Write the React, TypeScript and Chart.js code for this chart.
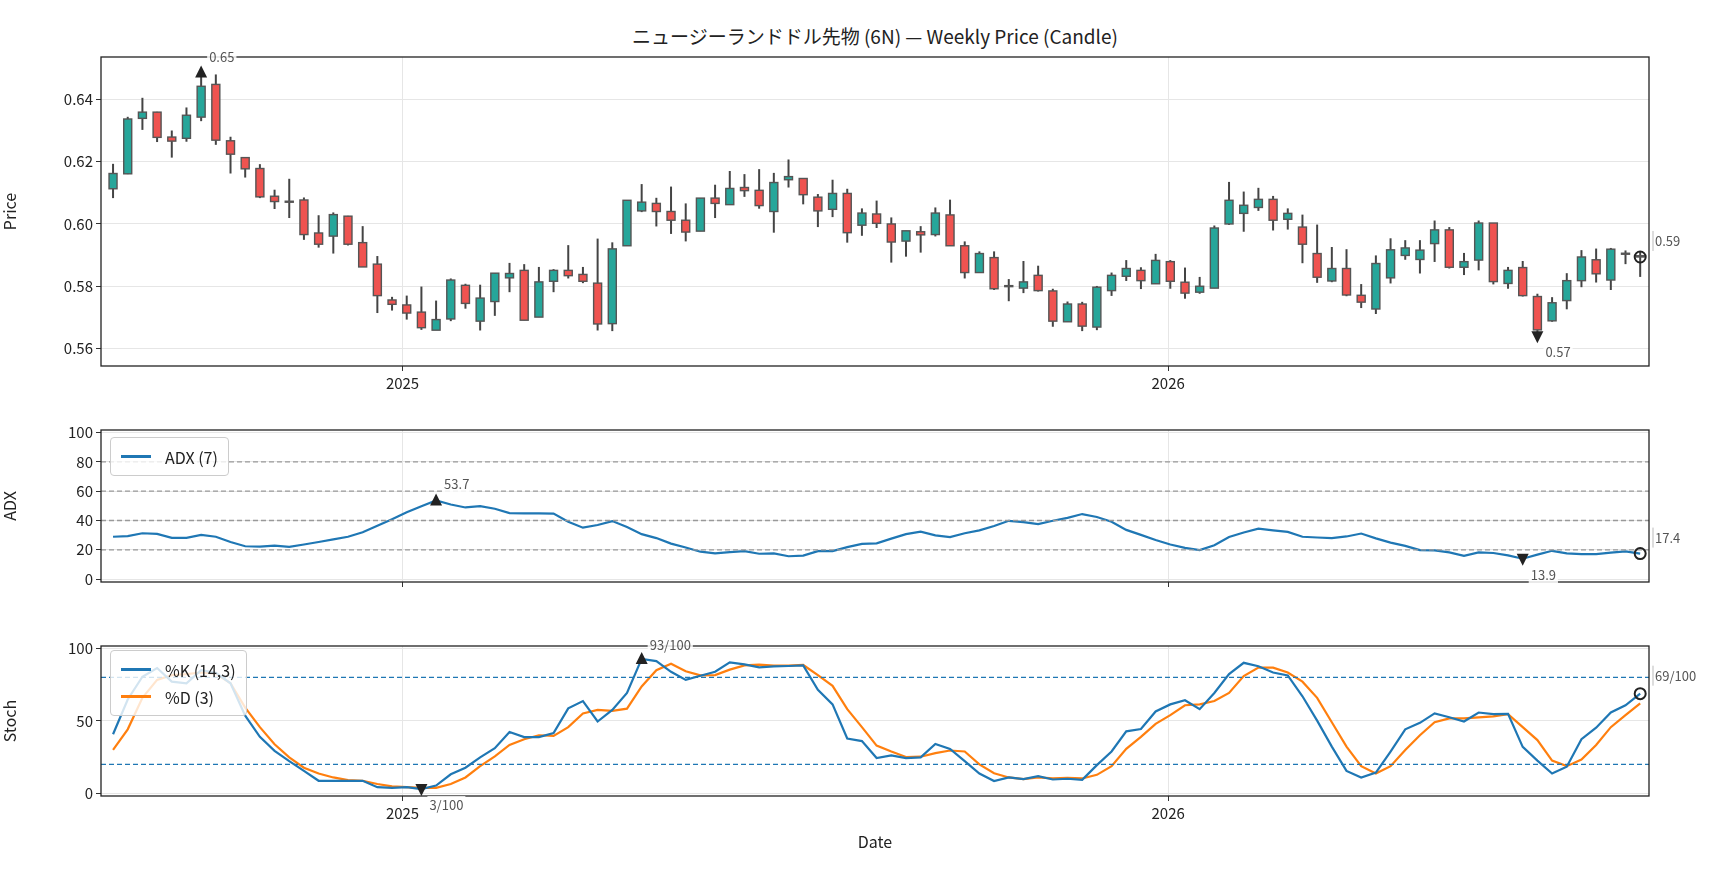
import React, { useEffect, useRef } from "react";
import { Chart, registerables } from "chart.js";
Chart.register(...registerables);

const START = "2024-08-16";
const YEAR_TICKS = ["2025-01-01", "2026-01-01"];
const YEAR_LABELS = ["2025", "2026"];

const OPEN = [.6113,.6161,.6339,.6359,.6279,.6275,.6343,.6448,.6267,.6213,.6178,.6089,.6073,.6077,.5971,.5961,.6025,.5940,.5871,.5756,.5740,.5717,.5659,.5695,.5803,.5688,.5751,.5827,.5851,.5701,.5816,.5851,.5838,.5810,.5680,.5930,.6042,.6066,.6040,.6012,.5977,.6083,.6062,.6117,.6108,.6040,.6142,.6146,.6086,.6047,.6098,.5996,.6032,.6000,.5945,.5975,.5966,.6029,.5930,.5844,.5892,.5802,.5794,.5835,.5785,.5686,.5743,.5669,.5786,.5832,.5851,.5808,.5879,.5813,.5781,.5794,.6000,.6034,.6053,.6079,.6015,.5990,.5905,.5817,.5857,.5771,.5727,.5827,.5899,.5886,.5937,.5981,.5861,.5884,.6003,.5809,.5860,.5767,.5689,.5754,.5818,.5885,.5820,.5906,.5898];
const HIGH = [.6193,.6344,.6405,.6360,.6300,.6374,.6486,.6480,.6280,.6213,.6192,.6110,.6145,.6085,.6028,.6037,.6026,.5993,.5897,.5766,.5770,.5799,.5754,.5825,.5808,.5805,.5842,.5875,.5871,.5862,.5855,.5932,.5862,.5953,.5941,.6076,.6128,.6084,.6120,.6066,.6083,.6126,.6170,.6160,.6176,.6164,.6207,.6146,.6096,.6142,.6113,.6050,.6075,.6021,.5978,.5993,.6053,.6078,.5944,.5912,.5912,.5823,.5881,.5866,.5792,.5751,.5750,.5801,.5844,.5884,.5861,.5904,.5884,.5860,.5830,.5995,.6135,.6104,.6116,.6090,.6050,.6030,.5998,.5926,.5919,.5807,.5899,.5954,.5948,.5948,.6011,.5990,.5907,.6011,.6003,.5862,.5881,.5776,.5765,.5842,.5916,.5921,.5923,.5915,.5910];
const LOW = [.6083,.6160,.6302,.6263,.6213,.6264,.6330,.6254,.6162,.6149,.6083,.6048,.6019,.5949,.5924,.5905,.5931,.5862,.5714,.5722,.5693,.5660,.5660,.5688,.5728,.5658,.5705,.5781,.5691,.5701,.5781,.5825,.5810,.5658,.5656,.5930,.6038,.5992,.5968,.5944,.5977,.6019,.6062,.6087,.6049,.5972,.6117,.6063,.5990,.6022,.5940,.5962,.5987,.5876,.5895,.5908,.5960,.5930,.5825,.5844,.5788,.5752,.5778,.5783,.5670,.5686,.5656,.5659,.5769,.5817,.5791,.5808,.5792,.5760,.5776,.5794,.5997,.5975,.6042,.5979,.5982,.5874,.5811,.5813,.5768,.5730,.5711,.5809,.5885,.5841,.5878,.5857,.5836,.5851,.5806,.5792,.5767,.5652,.5686,.5726,.5797,.5812,.5788,.5871,.5830];
const CLOSE = [.6162,.6337,.6359,.6278,.6266,.6349,.6442,.6269,.6224,.6177,.6087,.6072,.6071,.5966,.5935,.6030,.5935,.5862,.5770,.5742,.5714,.5667,.5693,.5820,.5745,.5762,.5842,.5841,.5691,.5814,.5851,.5834,.5816,.5679,.5920,.6076,.6070,.6040,.6012,.5974,.6083,.6066,.6114,.6107,.6059,.6133,.6152,.6094,.6042,.6098,.5972,.6035,.6002,.5942,.5978,.5965,.6035,.5930,.5844,.5905,.5792,.5800,.5814,.5786,.5688,.5743,.5672,.5797,.5835,.5857,.5818,.5883,.5816,.5778,.5800,.5987,.6076,.6060,.6079,.6012,.6034,.5935,.5829,.5857,.5772,.5749,.5873,.5917,.5923,.5916,.5981,.5861,.5879,.6003,.5815,.5851,.5770,.5660,.5747,.5818,.5894,.5840,.5919,.5904,.5894];
const ADX = [28.9,29.3,31.3,30.9,28.2,28.2,30.2,28.9,25.3,22.4,22.2,22.9,22.0,23.6,25.3,27.1,28.9,32.0,36.4,40.9,45.6,49.8,53.7,50.9,48.9,49.8,48.0,45.1,44.9,44.9,44.7,39.1,35.1,36.9,39.6,35.6,30.7,28.0,24.2,21.6,18.7,17.6,18.4,19.1,17.3,17.6,15.6,16.0,19.1,19.1,21.8,24.0,24.4,27.6,30.7,32.4,29.8,28.7,31.3,33.3,36.2,39.8,38.9,37.6,39.8,41.8,44.4,42.4,39.1,33.6,30.2,26.7,23.6,21.3,19.8,23.1,28.7,31.8,34.4,33.3,32.2,28.9,28.4,28.0,29.1,31.1,27.8,24.9,22.7,19.8,19.6,18.2,15.8,18.2,17.8,16.2,13.9,16.7,19.3,17.6,17.1,17.1,18.0,18.9,17.4];
const STOCH_K = [40.8,64.8,80.5,86.5,77.1,76.0,85.0,83.2,76.0,53.6,39.0,29.4,22.2,15.5,8.7,8.7,8.7,8.7,4.3,3.8,4.3,3.0,5.4,13.2,17.7,24.9,31.2,42.4,38.8,38.8,41.7,58.7,63.7,49.6,57.6,69.3,92.8,91.3,83.9,78.3,81.2,83.9,90.4,89.0,87.0,87.7,87.9,88.3,71.5,61.4,37.9,36.1,24.4,26.2,24.4,24.9,34.1,30.7,22.2,13.7,8.5,11.0,9.9,11.9,9.6,10.1,9.4,19.5,28.9,42.8,44.4,56.5,61.4,64.3,58.1,69.3,82.3,90.1,87.7,83.4,81.4,67.0,50.2,32.3,15.5,11.0,14.3,28.9,44.2,48.7,55.2,52.5,49.6,55.8,54.7,54.9,32.1,22.6,13.7,18.4,37.4,45.3,55.8,60.8,68.8];
const STOCH_D = [30.0,44.2,65.9,78.3,81.6,82.3,83.4,82.7,76.0,59.2,45.7,33.9,24.9,17.7,13.7,11.0,9.2,8.7,6.5,4.9,4.3,3.8,3.8,6.5,11.0,18.8,25.6,33.4,37.4,40.1,39.7,45.7,55.2,57.6,57.0,58.5,73.8,85.0,89.5,84.3,81.4,81.6,85.4,88.3,88.8,88.1,88.1,88.6,81.6,74.2,58.1,45.7,33.0,28.9,25.1,25.3,27.8,29.6,28.9,20.0,13.9,11.0,9.9,11.0,10.3,10.8,10.3,12.8,18.8,30.7,39.0,48.0,54.0,60.8,61.4,63.7,69.3,80.9,86.8,86.8,83.4,77.1,65.9,49.1,32.3,18.8,13.7,18.8,30.0,40.1,49.1,51.8,51.8,52.5,53.1,54.7,45.7,36.8,22.6,18.8,23.3,33.4,45.7,54.0,62.1];

const WEEK = 7 * 864e5;
const TICK_POS = YEAR_TICKS.map((d) => (Date.parse(d) - Date.parse(START)) / WEEK);
const X_MIN = -0.82, X_MAX = 104.6;
const FONT = "'Noto Sans CJK JP', 'Noto Sans', sans-serif";
const BLUE = "#1f77b4", ORANGE = "#ff7f0e";
const idx = OPEN.map((_, i) => i);

const argMax = (a: number[]) => a.reduce((b, v, i) => (v > a[b] ? i : b), 0);
const argMin = (a: number[]) => a.reduce((b, v, i) => (v < a[b] ? i : b), 0);

const candles = {
  id: "candles",
  beforeDatasetsDraw(chart: any, _a: any, opts: any) {
    if (!opts || !opts.on) return;
    const { ctx, scales } = chart;
    const xs = scales.x, ys = scales.y;
    ctx.save();
    idx.forEach((i) => {
      const x = xs.getPixelForValue(i);
      ctx.strokeStyle = "#444"; ctx.lineWidth = 2;
      ctx.beginPath(); ctx.moveTo(x, ys.getPixelForValue(HIGH[i])); ctx.lineTo(x, ys.getPixelForValue(LOW[i])); ctx.stroke();
      const yo = ys.getPixelForValue(OPEN[i]), yc = ys.getPixelForValue(CLOSE[i]);
      const top = Math.min(yo, yc), h = Math.max(Math.abs(yo - yc), 1);
      ctx.fillStyle = CLOSE[i] >= OPEN[i] ? "#26a69a" : "#ef5350";
      ctx.fillRect(x - 4, top, 8, h);
      ctx.strokeStyle = "#555"; ctx.lineWidth = 1.4;
      ctx.strokeRect(x - 4, top, 8, h);
    });
    ctx.restore();
  },
};

const deco = {
  id: "deco",
  afterDatasetsDraw(chart: any, _a: any, opts: any) {
    const { ctx, chartArea: ca, scales } = chart;
    const xs = scales.x, ys = scales.y;
    ctx.save();
    (opts.lines || []).forEach((l: any) => {
      const y = ys.getPixelForValue(l.y);
      ctx.beginPath(); ctx.setLineDash([5, 3]); ctx.strokeStyle = l.color; ctx.lineWidth = 1.3;
      ctx.moveTo(ca.left, y); ctx.lineTo(ca.right, y); ctx.stroke();
    });
    ctx.setLineDash([]);
    ctx.strokeStyle = "#222"; ctx.lineWidth = 1.3;
    ctx.strokeRect(ca.left, ca.top, ca.right - ca.left, ca.bottom - ca.top);
    (opts.markers || []).forEach((m: any) => {
      const x = xs.getPixelForValue(m.x), y = ys.getPixelForValue(m.y) + (m.off || 0);
      ctx.fillStyle = "#222"; ctx.strokeStyle = "#222";
      if (m.kind === "up") {
        ctx.beginPath(); ctx.moveTo(x, y - 7); ctx.lineTo(x - 6, y + 5); ctx.lineTo(x + 6, y + 5); ctx.closePath(); ctx.fill();
      } else if (m.kind === "down") {
        ctx.beginPath(); ctx.moveTo(x, y + 7); ctx.lineTo(x - 6, y - 5); ctx.lineTo(x + 6, y - 5); ctx.closePath(); ctx.fill();
      } else {
        ctx.beginPath(); ctx.lineWidth = 2; ctx.arc(x, y, 5.5, 0, Math.PI * 2); ctx.stroke();
      }
      ctx.font = `13px ${FONT}`;
      ctx.textBaseline = "middle"; ctx.textAlign = "left";
      const tx = m.right ? ca.right + 6 : x + m.dx, ty = y + m.dy;
      const w = ctx.measureText(m.label).width;
      ctx.fillStyle = "rgba(255,255,255,0.85)";
      ctx.fillRect(tx - 2, ty - 9, w + 4, 18);
      if (m.right) { ctx.strokeStyle = "#bbb"; ctx.lineWidth = 1; ctx.beginPath(); ctx.moveTo(tx - 2, ty - 10); ctx.lineTo(tx - 2, ty + 10); ctx.stroke(); }
      ctx.fillStyle = "#555";
      ctx.fillText(m.label, tx, ty);
    });
    ctx.restore();
  },
};

function xScale(height: number, labels: boolean, title?: string) {
  return {
    type: "linear", min: X_MIN, max: X_MAX, offset: false,
    afterBuildTicks: (s: any) => { s.ticks = TICK_POS.map((v) => ({ value: v })); },
    afterFit: (s: any) => { s.height = height; },
    ticks: { autoSkip: false, maxRotation: 0, color: "#222", font: { size: 15, family: FONT }, callback: (_v: any, i: number) => (labels ? YEAR_LABELS[i] : "") },
    grid: { color: "#e6e6e6", tickColor: "#333", tickLength: 5, offset: false },
    border: { display: false },
    title: title ? { display: true, text: title, color: "#222", font: { size: 16, family: FONT }, padding: { top: 4 } } : { display: false },
  };
}
function yScale(min: number, max: number, ticks: number[], title: string, fmt: (v: number) => string) {
  return {
    min, max,
    afterBuildTicks: (s: any) => { s.ticks = ticks.map((v) => ({ value: v })); },
    afterFit: (s: any) => { s.width = 101; },
    ticks: { color: "#222", font: { size: 15, family: FONT }, callback: (v: any) => fmt(v) },
    grid: { color: "#e6e6e6", tickColor: "#333", tickLength: 5 },
    border: { display: false },
    title: { display: true, text: title, color: "#222", font: { size: 16, family: FONT }, padding: { top: 0, bottom: 4 } },
  };
}
const base = () => ({
  animation: false, responsive: true, maintainAspectRatio: false,
  layout: { padding: { top: 8, right: 79, left: 14, bottom: 0 } },
});

function useChart(make: () => any) {
  const ref = useRef<HTMLCanvasElement>(null);
  useEffect(() => {
    const c = new Chart(ref.current as any, make());
    return () => c.destroy();
  }, []);
  return ref;
}

export default function App() {
  const iMax = argMax(HIGH), iMin = argMin(LOW), last = CLOSE.length - 1;
  const pRef = useChart(() => ({
    type: "line",
    data: { datasets: [{ data: idx.map((i) => ({ x: i, y: CLOSE[i] })), borderColor: "rgba(0,0,0,0)", borderWidth: 0, pointRadius: 0 }] },
    options: {
      ...base(),
      scales: { x: xScale(34, true), y: yScale(0.5544, 0.6536, [0.56, 0.58, 0.6, 0.62, 0.64], "Price", (v) => v.toFixed(2)) },
      plugins: {
        legend: { display: false }, tooltip: { enabled: false },
        candles: { on: true },
        deco: {
          markers: [
            { x: iMax, y: HIGH[iMax], kind: "up", label: HIGH[iMax].toFixed(2), dx: 8, dy: -16 },
            { x: iMin, y: LOW[iMin], kind: "down", label: LOW[iMin].toFixed(2), dx: 8, dy: 16, off: 4 },
            { x: last, y: CLOSE[last], kind: "circle", label: CLOSE[last].toFixed(2), right: true, dy: -16 },
          ],
        },
      },
    },
    plugins: [candles, deco],
  }));
  const aMax = argMax(ADX), aMin = argMin(ADX);
  const aRef = useChart(() => ({
    type: "line",
    data: { datasets: [{ data: idx.map((i) => ({ x: i, y: ADX[i] })), borderColor: BLUE, borderWidth: 2.2, pointRadius: 0 }] },
    options: {
      ...base(),
      scales: { x: xScale(20, false), y: yScale(-2, 101.8, [0, 20, 40, 60, 80, 100], "ADX", (v) => String(v)) },
      plugins: {
        legend: { display: false }, tooltip: { enabled: false },
        deco: {
          lines: [20, 40, 60, 80].map((y) => ({ y, color: "#999" })),
          markers: [
            { x: aMax, y: ADX[aMax], kind: "up", label: ADX[aMax].toFixed(1), dx: 8, dy: -16 },
            { x: aMin, y: ADX[aMin], kind: "down", label: ADX[aMin].toFixed(1), dx: 8, dy: 16 },
            { x: last, y: ADX[last], kind: "circle", label: ADX[last].toFixed(1), right: true, dy: -16 },
          ],
        },
      },
    },
    plugins: [deco],
  }));
  const kMax = argMax(STOCH_K), kMin = argMin(STOCH_K);
  const sRef = useChart(() => ({
    type: "line",
    data: {
      datasets: [
        { data: idx.map((i) => ({ x: i, y: STOCH_K[i] })), borderColor: BLUE, borderWidth: 2.2, pointRadius: 0 },
        { data: idx.map((i) => ({ x: i, y: STOCH_D[i] })), borderColor: ORANGE, borderWidth: 2.2, pointRadius: 0 },
      ],
    },
    options: {
      ...base(),
      scales: { x: xScale(60, true, "Date"), y: yScale(-1.8, 101.7, [0, 50, 100], "Stoch", (v) => String(v)) },
      plugins: {
        legend: { display: false }, tooltip: { enabled: false },
        deco: {
          lines: [20, 80].map((y) => ({ y, color: BLUE })),
          markers: [
            { x: kMax, y: STOCH_K[kMax], kind: "up", label: `${Math.round(STOCH_K[kMax])}/100`, dx: 8, dy: -14 },
            { x: kMin, y: STOCH_K[kMin], kind: "down", label: `${Math.round(STOCH_K[kMin])}/100`, dx: 8, dy: 16 },
            { x: last, y: STOCH_K[last], kind: "circle", label: `${Math.round(STOCH_K[last])}/100`, right: true, dy: -18 },
          ],
        },
      },
    },
    plugins: [deco],
  }));

  const box = (top: number, h: number): React.CSSProperties => ({ position: "absolute", left: -14, top, width: 1742, height: h });
  const legend = (top: number, items: [string, string][]) => (
    <div style={{ position: "absolute", left: 110, top, padding: "5px 10px", border: "1px solid #ccc", borderRadius: 4, background: "rgba(255,255,255,0.8)", fontFamily: FONT, fontSize: 16, color: "#222" }}>
      {items.map(([c, t]) => (
        <div key={t} style={{ display: "flex", alignItems: "center", height: 27 }}>
          <span style={{ display: "inline-block", width: 30, height: 2.5, background: c, marginRight: 14 }} />
          {t}
        </div>
      ))}
    </div>
  );
  return (
    <div style={{ position: "absolute", left: 0, top: 0, width: 1728, height: 878, background: "#fff", overflow: "hidden" }}>
      <div style={{ position: "absolute", left: 101, width: 1548, top: 22, textAlign: "center", fontFamily: FONT, fontSize: 19, color: "#222" }}>
        ニュージーランドドル先物 (6N) — Weekly Price (Candle)
      </div>
      <div style={box(45, 355)}><canvas ref={pRef} /></div>
      <div style={box(418, 184)}><canvas ref={aRef} /></div>
      <div style={box(634, 222)}><canvas ref={sRef} /></div>
      {legend(437, [[BLUE, "ADX (7)"]])}
      {legend(650, [[BLUE, "%K (14,3)"], [ORANGE, "%D (3)"]])}
    </div>
  );
}
